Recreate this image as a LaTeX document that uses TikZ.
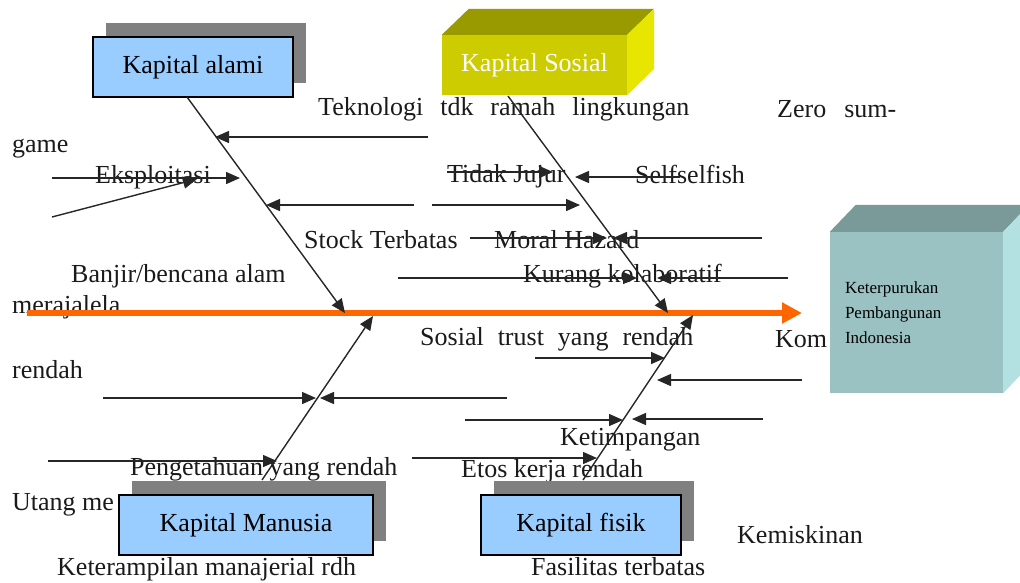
\documentclass[tikz,border=0pt]{standalone}
\usepackage{fontspec}
\setmainfont{Liberation Serif}
\usetikzlibrary{arrows.meta,shadows,calc}

\definecolor{kapblue}{RGB}{153,204,255}
\definecolor{shadowgray}{RGB}{128,128,128}
\definecolor{spineorange}{RGB}{255,102,0}
\definecolor{sosfront}{RGB}{204,204,0}
\definecolor{sostop}{RGB}{153,153,0}
\definecolor{sosside}{RGB}{230,230,0}
\definecolor{hasfront}{RGB}{155,194,194}
\definecolor{hastop}{RGB}{122,153,153}
\definecolor{hasside}{RGB}{179,224,224}
\definecolor{inktext}{RGB}{26,26,26}

% horizontal cause arrow: name, x start, y, x tip
\newcommand\causearrow[4]{%
    \coordinate (#1-s) at (#2,#3);
    \coordinate (#1-e) at (#4,#3);
    \draw[cause] (#1-s) -- (#1-e)
}
% wide word gap of justified lines
\newcommand\wgap[1]{\hskip#1pt\relax}

\tikzset{
    bigfont/.style={font=\fontsize{26}{30}\selectfont},
    kapbox/.style={draw=black, line width=1.2pt, fill=kapblue, minimum height=60pt, inner sep=0pt, bigfont,
        drop shadow={shadow xshift=13pt, shadow yshift=14pt, fill=shadowgray, opacity=1}},
    lbl/.style={anchor=base west, inner sep=0pt, text=inktext, bigfont},
    cause/.style={draw=black!85, line width=1.4pt, -{Triangle[length=14pt,width=12pt]}},
    bone/.style={draw=black!85, line width=1.4pt, -{Triangle[length=14pt,width=12pt]}},
    spine/.style={draw=spineorange, line width=6pt, -{Triangle[length=20pt,width=20pt]}}
}

\begin{document}
\begin{tikzpicture}[x=1pt,y=-1pt]
    \useasboundingbox (0,0) rectangle (1020,582);

    % labels
    \foreach \name/\x/\y/\txt in {
        game/12/152/{game},
        tekno/318/115/{Teknologi\wgap{17}tdk\wgap{17}ramah\wgap{17}lingkungan},
        zero/777/117/{Zero\wgap{18}sum-},
        eksp/95/183/{Eksploitasi},
        jujur/447/182/{Tidak Jujur},
        self/635/183/{Selfselfish},
        stock/304/248/{Stock Terbatas},
        moral/494/248/{Moral Hazard},
        banjir/71/282/{Banjir/bencana alam},
        kurang/523/282/{Kurang kolaboratif},
        meraja/12/313/{merajalela},
        trust/420/345/{Sosial\wgap{14}trust\wgap{14}yang\wgap{14}rendah},
        kom/775/347/{Kom},
        rendah/12/378/{rendah},
        timpang/560/445/{Ketimpangan},
        tahu/130/475/{Pengetahuan yang rendah},
        etos/461/477/{Etos kerja rendah},
        utang/12/510/{Utang me},
        miskin/737/543/{Kemiskinan},
        terampil/57/575/{Keterampilan manajerial rdh},
        fasil/531/575/{Fasilitas terbatas}}
        \node[lbl] (lbl-\name) at (\x,\y) {\txt};

    % spine
    \coordinate (tail) at (27,313);
    \coordinate (head) at (802,313);
    \draw[spine] (tail) -- (head);

    % boxes
    \node[kapbox, minimum width=200pt] (alami) at (193,67) {Kapital alami};
    \node[kapbox, minimum width=254pt] (manusia) at (246,525) {Kapital Manusia};
    \node[kapbox, minimum width=200pt] (fisik) at (581,525) {Kapital fisik};

    \node[fill=sosfront, minimum width=185pt, minimum height=60pt, inner sep=0pt, text=white, bigfont] (sosial) at (534.5,65) {Kapital Sosial};
    \fill[sostop] (sosial.north west) -- ++(27,-26) -- ++(185,0) -- (sosial.north east) -- cycle;
    \fill[sosside] (sosial.north east) -- ++(27,-26) -- ++(0,60) -- (sosial.south east) -- cycle;

    \node[fill=hasfront, minimum width=173pt, minimum height=161pt, inner xsep=15pt, text width=143pt, align=left,
        font=\fontsize{17}{25}\selectfont] (hasil) at (916.5,312.5) {Keterpurukan\\Pembangunan\\Indonesia};
    \fill[hastop] (hasil.north west) -- ++(26,-27) -- ++(173,0) -- (hasil.north east) -- cycle;
    \fill[hasside] (hasil.north east) -- ++(26,-27) -- ++(0,161) -- (hasil.south east) -- cycle;

    % bones
    \coordinate (alami-root) at (187,97);
    \coordinate (alami-tip) at (345,313);
    \coordinate (sosial-root) at (508,96);
    \coordinate (sosial-tip) at (668,313);
    \coordinate (manusia-root) at (262,480);
    \coordinate (manusia-tip) at (373,316);
    \coordinate (fisik-root) at (583,480);
    \coordinate (fisik-tip) at (693,315);
    \draw[bone] (alami-root) -- (alami-tip);
    \draw[bone] (sosial-root) -- (sosial-tip);
    \draw[bone] (manusia-root) -- (manusia-tip);
    \draw[bone] (fisik-root) -- (fisik-tip);

    % causes
    \causearrow{tekno}{428}{137}{215};
    \causearrow{eksp}{52}{178}{240};
    \coordinate (banjir-s) at (52,217);
    \coordinate (banjir-e) at (197,179);
    \draw[cause] (banjir-s) -- (banjir-e);
    \causearrow{stock}{414}{205}{266};
    \causearrow{stockr}{432}{205}{580};
    \causearrow{jujur}{447}{172}{553};
    \causearrow{self}{680}{177}{575};
    \causearrow{moral}{470}{238}{607};
    \causearrow{moralr}{762}{238}{613};
    \causearrow{kurang}{398}{278}{637};
    \causearrow{kurangr}{788}{278}{657};
    \causearrow{trust}{535}{358}{665};
    \causearrow{trustr}{802}{380}{657};
    \causearrow{rendah}{103}{398}{316};
    \causearrow{rendahr}{507}{398}{320};
    \causearrow{timpang}{465}{420}{623};
    \causearrow{timpangr}{763}{419}{632};
    \causearrow{tahu}{48}{461}{277};
    \causearrow{etos}{412}{458}{597};
\end{tikzpicture}
\end{document}
